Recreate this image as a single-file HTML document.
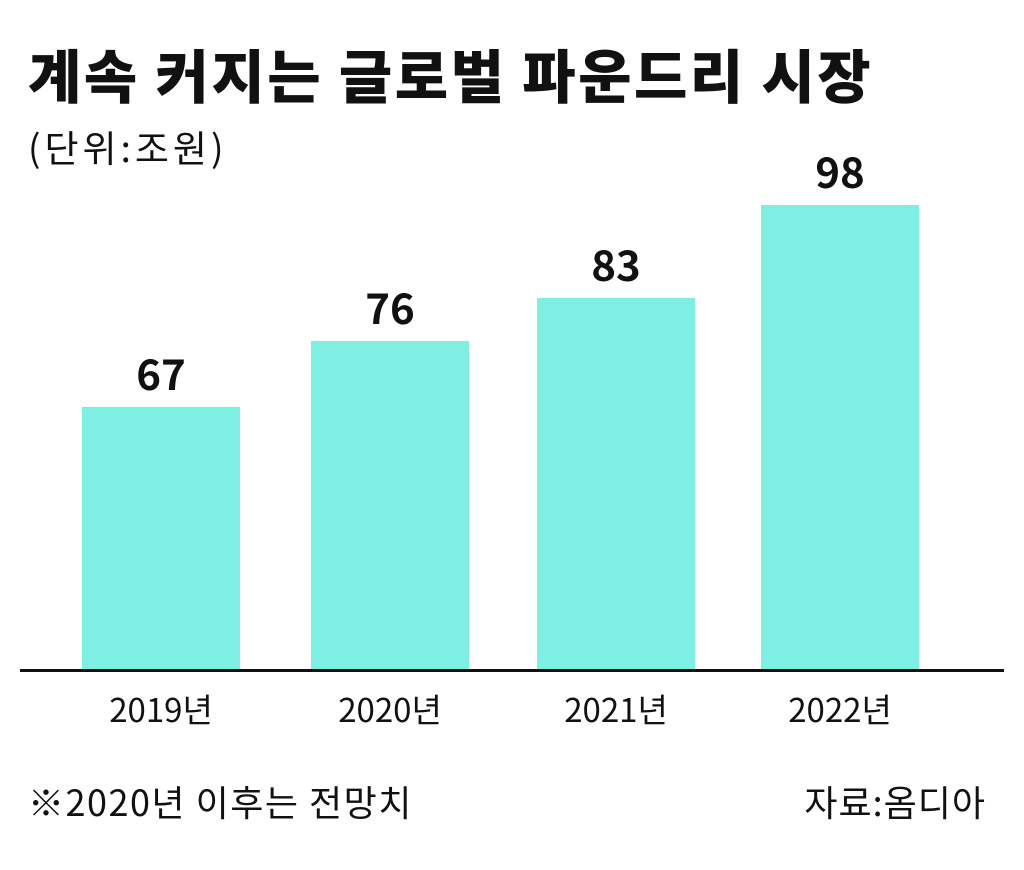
<!DOCTYPE html>
<html><head><meta charset="utf-8"><style>
body{margin:0;width:1024px;height:870px;background:#fff;position:relative;overflow:hidden;font-family:"Noto Sans CJK KR","Liberation Sans",sans-serif;color:#111}
.t{position:absolute;white-space:nowrap;line-height:1}
.bar{position:absolute;background:#7defe3;width:158px}
.v{position:absolute;width:158px;text-align:center;font-weight:bold;font-size:42px;line-height:1}
.y{position:absolute;width:200px;text-align:center;font-size:33px;line-height:1}
</style></head><body>
<div class="t" style="left:28px;top:44px;font-size:58px;font-weight:900;letter-spacing:2.5px">계속 커지는 글로벌 파운드리 시장</div>
<div class="t" style="left:28px;top:128px;font-size:37px;letter-spacing:4px">(단위:조원)</div>

<div class="bar" style="left:82px;top:407px;height:263px"></div>
<div class="bar" style="left:311px;top:341px;height:329px"></div>
<div class="bar" style="left:537px;top:298px;height:372px"></div>
<div class="bar" style="left:761px;top:205px;height:465px"></div>

<div class="v" style="left:82px;top:352px">67</div>
<div class="v" style="left:311px;top:286px">76</div>
<div class="v" style="left:537px;top:243px">83</div>
<div class="v" style="left:761px;top:150px">98</div>

<div style="position:absolute;left:20px;top:669px;width:984px;height:3px;background:#111"></div>

<div class="y" style="left:61px;top:692px">2019년</div>
<div class="y" style="left:290px;top:692px">2020년</div>
<div class="y" style="left:516px;top:692px">2021년</div>
<div class="y" style="left:740px;top:692px">2022년</div>

<div class="t" style="left:28px;top:783px;font-size:36px;letter-spacing:1.5px">※2020년 이후는 전망치</div>
<div class="t" style="right:38px;top:783px;font-size:36px;letter-spacing:1px">자료:옴디아</div>
</body></html>
